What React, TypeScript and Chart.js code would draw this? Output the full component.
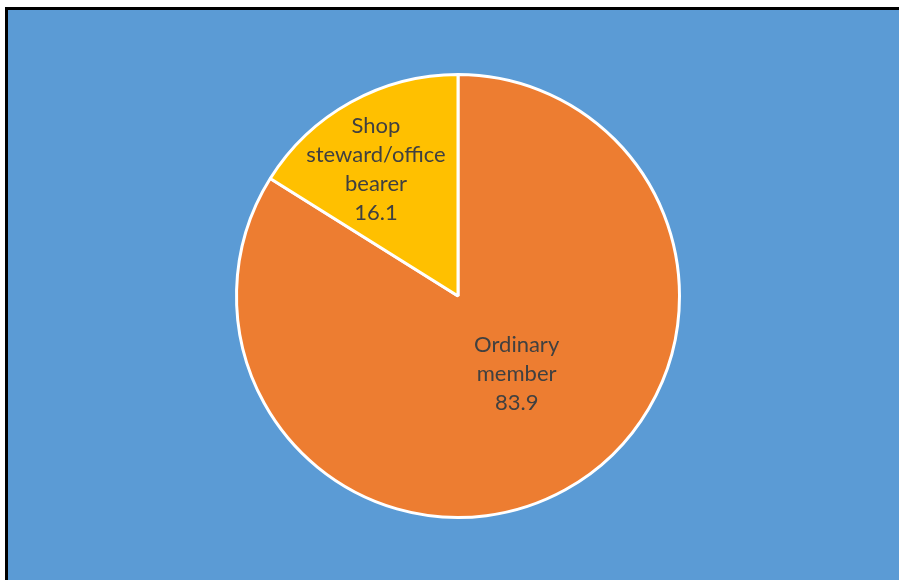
import React, { useEffect, useRef } from "react";
import { Chart, registerables } from "chart.js";

Chart.register(...registerables);

const categories = ["Ordinary member", "Shop steward/office bearer"];
const labelLines = [["Ordinary", "member"], ["Shop", "steward/office", "bearer"]];
const values = [83.9, 16.1];
const colors = ["#ED7D31", "#FFC000"];
// label placement: fraction of radius, angle shift (radians)
const labelRadiusFrac = [0.44, 0.68];
const labelAngleShift = [-0.14, -0.07];

const labelPlugin = {
  id: "sliceLabels",
  afterDatasetsDraw(chart: any) {
    const ctx = chart.ctx;
    const meta = chart.getDatasetMeta(0);
    ctx.save();
    ctx.fillStyle = "#404040";
    ctx.font = '22px Lato';
    ctx.textAlign = "center";
    ctx.textBaseline = "middle";
    const lh = 29;
    meta.data.forEach((arc: any, i: number) => {
      const p = arc.getProps(["x", "y", "startAngle", "endAngle", "outerRadius"], true);
      const mid = (p.startAngle + p.endAngle) / 2 + labelAngleShift[i];
      const r = p.outerRadius * labelRadiusFrac[i];
      const cx = p.x + Math.cos(mid) * r;
      const cy = p.y + Math.sin(mid) * r;
      const lines = [...labelLines[i], String(values[i])];
      const top = cy - ((lines.length - 1) * lh) / 2;
      lines.forEach((t, k) => ctx.fillText(t, cx, top + k * lh));
    });
    ctx.restore();
  },
};

export default function App() {
  const ref = useRef<HTMLCanvasElement>(null);
  useEffect(() => {
    const chart = new Chart(ref.current!, {
      type: "pie",
      data: {
        labels: categories,
        datasets: [
          {
            data: values,
            backgroundColor: colors,
            borderColor: "#FFFFFF",
            borderWidth: 3,
          },
        ],
      },
      options: {
        responsive: false,
        animation: false,
        layout: { padding: { top: 73, bottom: 61, left: 17, right: 0 } },
        plugins: { legend: { display: false }, tooltip: { enabled: false } },
      },
      plugins: [labelPlugin],
    });
    return () => chart.destroy();
  }, []);
  return (
    <div style={{ position: "fixed", left: 0, top: 0, width: 899, height: 580, overflow: "hidden", background: "#FFFFFF" }}>
      <div
        style={{
          position: "absolute",
          left: 5,
          top: 7,
          width: 900,
          height: 580,
          borderLeft: "3px solid #000",
          borderTop: "3px solid #000",
          background: "#5B9BD5",
        }}
      />
      <canvas ref={ref} width={899} height={580} style={{ position: "absolute", left: 0, top: 0 }} />
    </div>
  );
}
